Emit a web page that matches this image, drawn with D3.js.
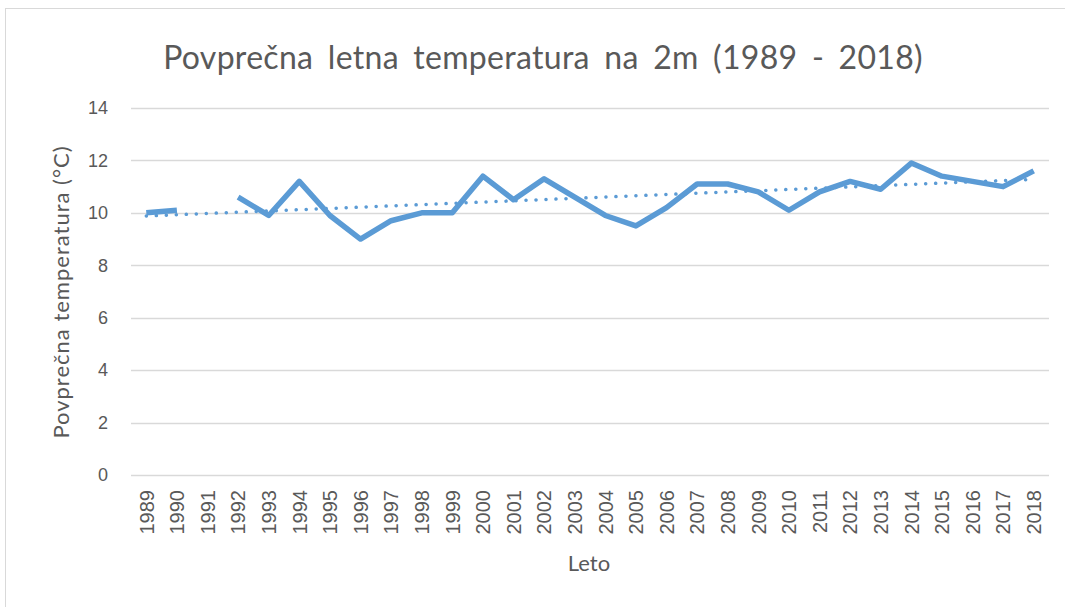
<!DOCTYPE html>
<html>
<head>
<meta charset="utf-8">
<script src="https://cdn.jsdelivr.net/npm/d3@7"></script>
<style>
  body { margin: 0; background: #fff; }
  text { font-family: Lato, "Open Sans", sans-serif; fill: #595959; }
  .axis text { font-family: "Liberation Sans", Arial, sans-serif; fill: #595959; }
</style>
</head>
<body>
<div id="chart"></div>
<script>
var years = d3.range(1989, 2019).map(String);
var temps = [10.0, 10.1, null, 10.6, 9.9, 11.2, 9.9, 9.0, 9.7, 10.0,
  10.0, 11.4, 10.5, 11.3, 10.6, 9.9, 9.5, 10.2, 11.1, 11.1,
  10.8, 10.1, 10.8, 11.2, 10.9, 11.9, 11.4, 11.2, 11.0, 11.6];
var trendYears = ["1989", "2018"];
var trendValues = [9.88, 11.28];
var yTicks = [0, 2, 4, 6, 8, 10, 12, 14];

var width = 1065, height = 607;
var plotLeft = 131, plotRight = 1049, plotTop = 108, plotBottom = 475;

var svg = d3.select('#chart').append('svg')
  .attr('width', width)
  .attr('height', height);

svg.append('rect')
  .attr('x', 5.5).attr('y', 8.5)
  .attr('width', 1080).attr('height', 620)
  .attr('fill', 'none')
  .attr('stroke', '#d9d9d9');

var x = d3.scaleBand().domain(years).range([plotLeft, plotRight]);
var y = d3.scaleLinear().domain([0, 14]).range([plotBottom, plotTop]);

// grid
svg.append('g').selectAll('line').data(yTicks).enter().append('line')
  .attr('x1', plotLeft).attr('x2', plotRight)
  .attr('y1', function(d){ return Math.round(y(d)) + 0.5; })
  .attr('y2', function(d){ return Math.round(y(d)) + 0.5; })
  .attr('stroke', '#d9d9d9')
  .attr('stroke-width', 1.5);

// y axis
var yAxis = svg.append('g')
  .attr('class', 'axis')
  .attr('transform', 'translate(' + plotLeft + ',0)')
  .call(d3.axisLeft(y).tickValues(yTicks).tickSize(0).tickPadding(23));
yAxis.attr('font-size', 18).attr('font-family', null);
yAxis.select('.domain').remove();

// x axis
var xAxis = svg.append('g')
  .attr('class', 'axis')
  .attr('transform', 'translate(0,' + plotBottom + ')')
  .call(d3.axisBottom(x).tickSize(0).tickPadding(0));
xAxis.attr('font-size', 20).attr('font-family', null);
xAxis.select('.domain').remove();
xAxis.selectAll('text')
  .attr('transform', 'rotate(-90)')
  .attr('text-anchor', 'end')
  .attr('dy', '0.36em')
  .attr('x', -15)
  .attr('y', 0);

// trend
var trend = trendYears.map(function(d, i){ return [x(d) + x.bandwidth() / 2, y(trendValues[i])]; });
svg.append('path')
  .attr('d', d3.line()(trend))
  .attr('fill', 'none')
  .attr('stroke', '#5b9bd5')
  .attr('stroke-width', 3.5)
  .attr('stroke-linecap', 'round')
  .attr('stroke-dasharray', '0.1,9.9');

// data line
var line = d3.line()
  .defined(function(d){ return d != null; })
  .x(function(d, i){ return x(years[i]) + x.bandwidth() / 2; })
  .y(function(d){ return y(d); });
svg.append('path')
  .attr('d', line(temps))
  .attr('fill', 'none')
  .attr('stroke', '#5b9bd5')
  .attr('stroke-width', 5.5)
  .attr('stroke-linejoin', 'round');

// titles
svg.append('text')
  .attr('x', 543).attr('y', 69)
  .attr('text-anchor', 'middle')
  .style('font-size', '32px')
  .style('word-spacing', '6px')
  .style('letter-spacing', '0.3px')
  .text('Povprečna letna temperatura na 2m (1989 - 2018)');

svg.append('text')
  .attr('transform', 'translate(69,292) rotate(-90)')
  .attr('text-anchor', 'middle')
  .style('font-size', '22px')
  .style('letter-spacing', '1px')
  .text('Povprečna temperatura (°C)');

svg.append('text')
  .attr('x', 589).attr('y', 571)
  .attr('text-anchor', 'middle')
  .style('font-size', '22px')
  .text('Leto');
</script>
</body>
</html>
